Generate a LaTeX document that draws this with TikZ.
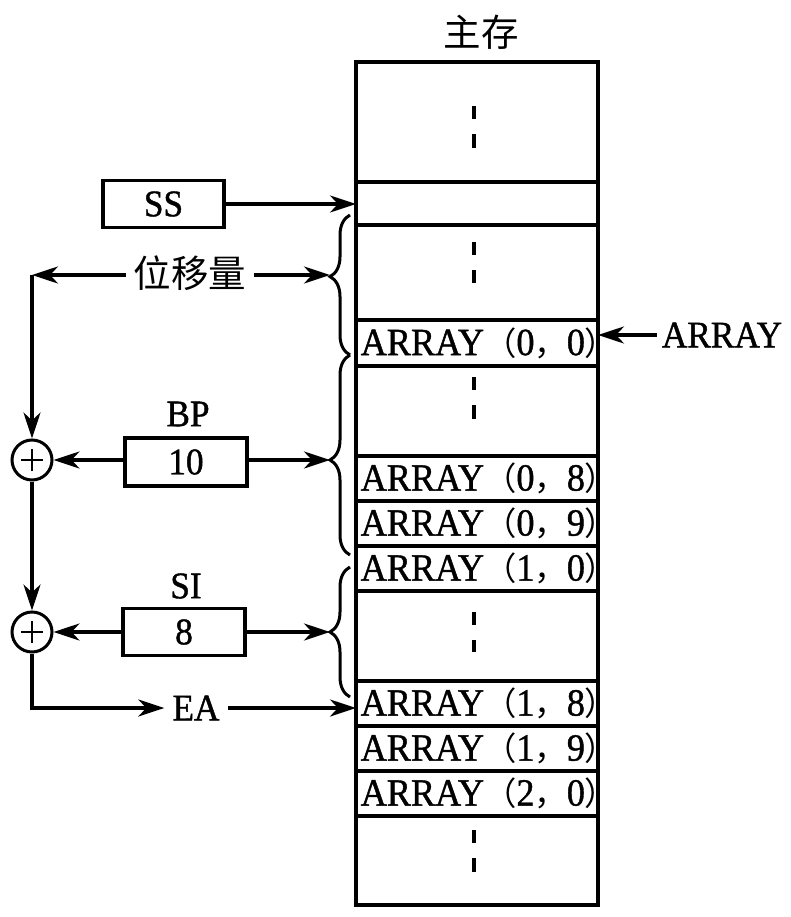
\documentclass[tikz,border=0pt]{standalone}
\usepackage{fontspec}
\setmainfont{Liberation Serif}[FakeStretch=0.94,FakeBold=1.1]
\newfontfamily\cjk{Noto Sans CJK SC}
\newfontfamily\cjkp{Noto Sans CJK SC}[Scale=0.84]
\usetikzlibrary{arrows.meta,decorations.pathreplacing}
\begin{document}
\begin{tikzpicture}[x=1pt,y=-1pt,
  font=\fontsize{37.5}{42}\selectfont,
  cell/.style={draw, line width=3.6pt, minimum width=242pt, inner sep=0pt, outer sep=0pt, anchor=north},
  celltext/.style={inner sep=0pt, font=\fontsize{38.5}{42}\selectfont},
  box/.style={draw, line width=3.4pt, inner sep=0pt},
  arr/.style={line width=3.2pt, -{Stealth[length=26pt,width=17pt,inset=8pt]}},
  dotmark/.style={line width=3.6pt},
  bracedec/.style={line width=3pt, decorate},
  adder/.style={circle, draw, line width=3pt, minimum size=40pt, inner sep=0pt,
    path picture={\draw[line width=1.4pt]
      ([xshift=-11pt]path picture bounding box.center) -- ([xshift=11pt]path picture bounding box.center)
      ([yshift=-11pt]path picture bounding box.center) -- ([yshift=11pt]path picture bounding box.center);}}
]
\useasboundingbox (0,0) rectangle (791,917);

% title
\node (title) at (481,32) {\cjk 主存};

% memory cells
\node[cell, minimum height=120pt] (r1) at (477,62) {};
\node[cell, minimum height=43pt] (r2) at (477,182) {};
\node[cell, minimum height=95pt] (r3) at (477,225) {};
\node[cell, minimum height=46pt] (r4) at (477,320) {};
\node[cell, minimum height=90pt] (r5) at (477,366) {};
\node[cell, minimum height=45pt] (r6) at (477,456) {};
\node[cell, minimum height=45pt] (r7) at (477,501) {};
\node[cell, minimum height=45pt] (r8) at (477,546) {};
\node[cell, minimum height=90pt] (r9) at (477,591) {};
\node[cell, minimum height=45pt] (r10) at (477,681) {};
\node[cell, minimum height=45pt] (r11) at (477,726) {};
\node[cell, minimum height=45pt] (r12) at (477,771) {};
\node[cell, minimum height=89pt] (r13) at (477,816) {};

\node[celltext] (t4) at ([xshift=12pt]r4.center) {ARRAY{\cjkp （}0{\cjkp ，}0{\cjkp ）}};
\node[celltext] (t6) at ([xshift=12pt]r6.center) {ARRAY{\cjkp （}0{\cjkp ，}8{\cjkp ）}};
\node[celltext] (t7) at ([xshift=12pt]r7.center) {ARRAY{\cjkp （}0{\cjkp ，}9{\cjkp ）}};
\node[celltext] (t8) at ([xshift=12pt]r8.center) {ARRAY{\cjkp （}1{\cjkp ，}0{\cjkp ）}};
\node[celltext] (t10) at ([xshift=12pt]r10.center) {ARRAY{\cjkp （}1{\cjkp ，}8{\cjkp ）}};
\node[celltext] (t11) at ([xshift=12pt]r11.center) {ARRAY{\cjkp （}1{\cjkp ，}9{\cjkp ）}};
\node[celltext] (t12) at ([xshift=12pt]r12.center) {ARRAY{\cjkp （}2{\cjkp ，}0{\cjkp ）}};

% vertical ellipsis dashes
\draw[dotmark] (474,106) -- (474,119) (474,134) -- (474,148);
\draw[dotmark] (474,242) -- (474,255) (474,270) -- (474,283);
\draw[dotmark] (474,377) -- (474,390) (474,405) -- (474,419);
\draw[dotmark] (474,612) -- (474,625) (474,640) -- (474,652);
\draw[dotmark] (474,830) -- (474,843) (474,858) -- (474,872);

% SS
\node[box, minimum width=121pt, minimum height=47pt] (ss) at (163.5,204) {SS};
\draw[arr] (ss.east) -- (ss.east -| r2.west);

% braces
\draw[bracedec, decoration={brace, amplitude=20pt, aspect=0.56}] (350,355) -- (350,215);
\draw[bracedec, decoration={brace, amplitude=20pt, aspect=0.475}] (350,555) -- (350,355);
\draw[bracedec, decoration={brace, amplitude=20pt, aspect=0.5}] (350,697) -- (350,567);
\coordinate (b1) at (330,275);
\coordinate (b2) at (330,460);
\coordinate (b3) at (330,632);

% displacement
\node[inner sep=8pt] (disp) at (190,273) {\cjk 位移量};
\coordinate (cor) at (32,275);
\draw[arr] (disp.west |- cor) -- (cor);
\draw[arr] (disp.east |- cor) -- (b1);

% adders
\node[adder] (c1) at (32,460) {};
\node[adder] (c2) at (32,632) {};
\draw[arr] (cor) -- (c1);
\draw[arr] (c1) -- (c2);

% BP
\node (bpl) at (188,414) {BP};
\node[box, minimum width=122pt, minimum height=48pt] (bp) at (186,462) {10};
\draw[arr] (bp.west |- c1) -- (c1.east);
\draw[arr] (bp.east |- b2) -- (b2);

% SI
\node (sil) at (186,586) {SI};
\node[box, minimum width=122pt, minimum height=47pt] (si) at (184,632) {8};
\draw[arr] (si.west) -- (c2.east);
\draw[arr] (si.east) -- (b3);

% EA
\node[inner sep=8pt] (ea) at (196,708) {EA};
\draw[arr] (c2.south) |- (ea.west);
\draw[arr] (ea.east) -- (ea.east -| r10.west);

% ARRAY label
\node[inner sep=5pt] (arrl) at (722,335) {ARRAY};
\draw[arr] (arrl.west) -- (arrl.west -| r4.east);
\end{tikzpicture}
\end{document}
